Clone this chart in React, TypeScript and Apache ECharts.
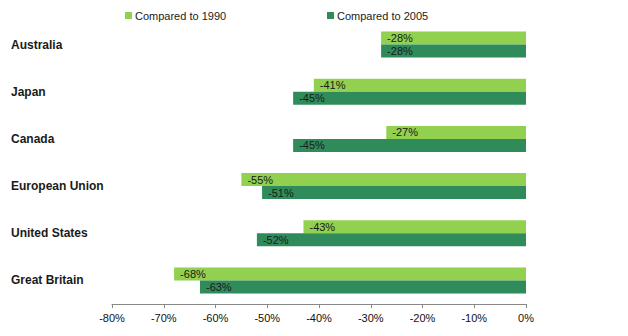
import React, { useEffect, useRef } from "react";
import * as echarts from "echarts";

const categories = ["Australia", "Japan", "Canada", "European Union", "United States", "Great Britain"];
const vs1990 = [-28, -41, -27, -55, -43, -68];
const vs2005 = [-28, -45, -45, -51, -52, -63];
const seriesNames = ["Compared to 1990", "Compared to 2005"];
const xTicks = { min: -80, max: 0, interval: 10 };

const FONT = "'Liberation Sans', Arial, sans-serif";

export default function App() {
  const ref = useRef<HTMLDivElement>(null);
  useEffect(() => {
    if (!ref.current) return;
    const chart = echarts.init(ref.current, null, { renderer: "svg" });
    const label = {
      show: true,
      position: "insideLeft" as const,
      distance: 6,
      formatter: (p: any) => `${p.value}%`,
      color: "#1a1a1a",
      fontSize: 11,
      fontFamily: FONT,
    };
    chart.setOption({
      animation: false,
      backgroundColor: "#ffffff",
      textStyle: { fontFamily: FONT },
      legend: [
        {
          data: [seriesNames[0]],
          left: 120,
          top: 5,
          itemWidth: 7,
          itemHeight: 7,
          itemGap: 4,
          icon: "rect",
          textStyle: { fontSize: 11, color: "#222", fontFamily: FONT, padding: [0, 0, 0, -2] },
        },
        {
          data: [seriesNames[1]],
          left: 322,
          top: 5,
          itemWidth: 7,
          itemHeight: 7,
          icon: "rect",
          textStyle: { fontSize: 11, color: "#222", fontFamily: FONT, padding: [0, 0, 0, -2] },
        },
      ],
      grid: { left: 112, right: 102, top: 21, bottom: 32, containLabel: false },
      xAxis: {
        type: "value",
        min: xTicks.min,
        max: xTicks.max,
        interval: xTicks.interval,
        axisLine: { show: true, lineStyle: { color: "#888", width: 1 } },
        axisTick: { show: true, length: 4, lineStyle: { color: "#888" } },
        splitLine: { show: false },
        axisLabel: {
          formatter: (v: number) => `${v}%`,
          color: "#111",
          fontSize: 11,
          fontFamily: FONT,
          margin: 8,
        },
      },
      yAxis: {
        type: "category",
        inverse: true,
        data: categories,
        axisLine: { show: false },
        axisTick: { show: false },
        axisLabel: {
          align: "left",
          margin: 101,
          color: "#1a1a1a",
          fontSize: 12,
          fontWeight: "bold",
          fontFamily: FONT,
          padding: [0, 0, 6, 0],
        },
      },
      series: [
        {
          name: seriesNames[0],
          type: "bar",
          data: vs1990,
          itemStyle: { color: "#92D050" },
          barGap: "0%",
          barCategoryGap: "45%",
          label,
        },
        {
          name: seriesNames[1],
          type: "bar",
          data: vs2005,
          itemStyle: { color: "#2F8C5A" },
          barGap: "0%",
          barCategoryGap: "45%",
          label,
        },
      ],
    });
    return () => chart.dispose();
  }, []);
  return (
    <div
      ref={ref}
      style={{ position: "absolute", left: 0, top: 0, width: 628, height: 336 }}
    />
  );
}
